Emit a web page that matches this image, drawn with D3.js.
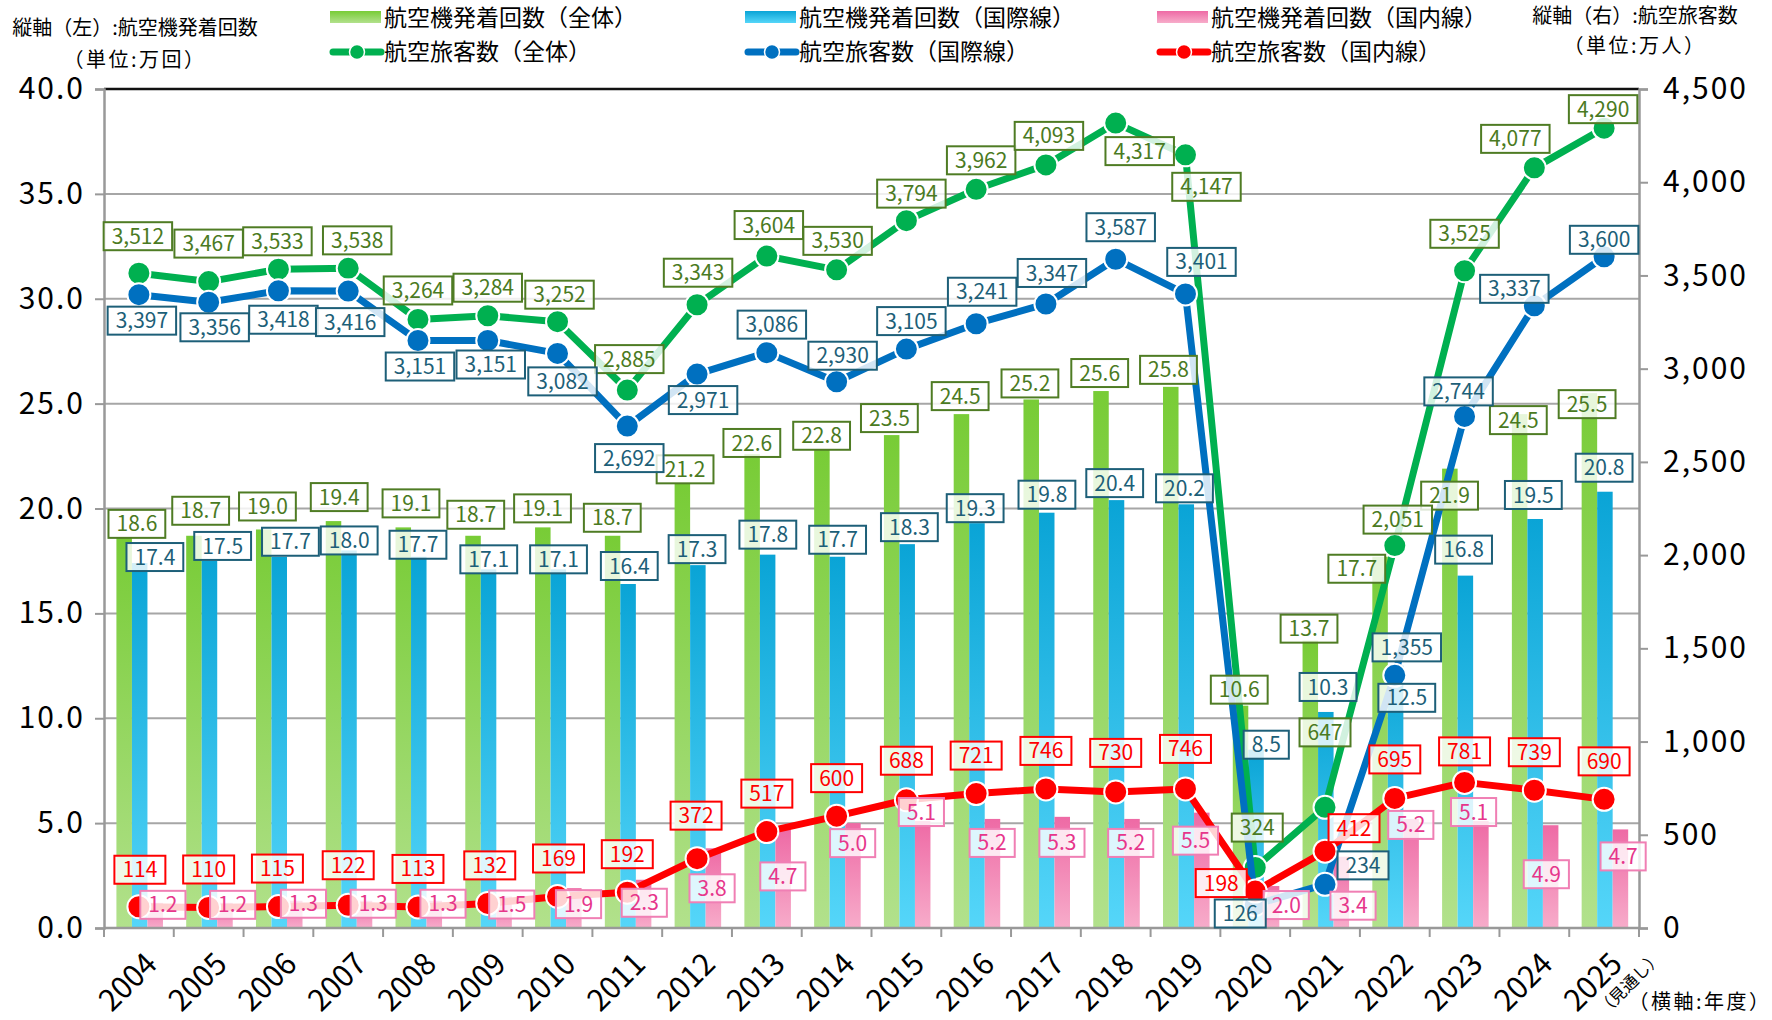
<!DOCTYPE html>
<html lang="ja">
<head>
<meta charset="utf-8">
<script src="https://cdn.jsdelivr.net/npm/d3@7"></script>
<style>
  body { margin: 0; background: #fff; }
  svg text { font-family: "Noto Sans CJK JP", "Noto Sans", sans-serif; }
</style>
</head>
<body>
<div id="chart"></div>
<script>
// ---- data ----
const years = ["2004","2005","2006","2007","2008","2009","2010","2011","2012","2013","2014",
               "2015","2016","2017","2018","2019","2020","2021","2022","2023","2024","2025"];

// 航空機発着回数 (万回)
const flightsTotal = [18.6,18.7,19.0,19.4,19.1,18.7,19.1,18.7,21.2,22.6,22.8,23.5,24.5,25.2,25.6,25.8,10.6,13.7,17.7,21.9,24.5,25.5];
const flightsIntl  = [17.4,17.5,17.7,18.0,17.7,17.1,17.1,16.4,17.3,17.8,17.7,18.3,19.3,19.8,20.4,20.2,8.5,10.3,12.5,16.8,19.5,20.8];
const flightsDom   = [1.2,1.2,1.3,1.3,1.3,1.5,1.9,2.3,3.8,4.7,5.0,5.1,5.2,5.3,5.2,5.5,2.0,3.4,5.2,5.1,4.9,4.7];

// 航空旅客数 (万人)
const paxTotal = [3512,3467,3533,3538,3264,3284,3252,2885,3343,3604,3530,3794,3962,4093,4317,4147,324,647,2051,3525,4077,4290];
const paxIntl  = [3397,3356,3418,3416,3151,3151,3082,2692,2971,3086,2930,3105,3241,3347,3587,3401,126,234,1355,2744,3337,3600];
const paxDom   = [114,110,115,122,113,132,169,192,372,517,600,688,721,746,730,746,198,412,695,781,739,690];

const leftTicks  = [0,5,10,15,20,25,30,35,40];
const rightTicks = [0,500,1000,1500,2000,2500,3000,3500,4000,4500];

// label nudges [dx, dy] in px, placed by hand in the original so they dodge each other
const nudgeFlTotal = [[-2,-14],[-8,-25],[-11,-23],[-9,-24],[-7,-24],[-12,-21],[-15,-19],[-15,-18],[-12,-14],[-15,-11],[-15,-14],
                      [-17,-17],[-16,-18],[-16,-16],[-16,-18],[-17,-17],[-16,-16],[-16,-12],[-38,12],[-15,27],[-16,6],[-17,11]];
const nudgeFlIntl  = [[16,-6],[14,-15],[12,-15],[1,-10],[0,-12],[1,-10],[1,-10],[2,-18],[0,-16],[1,-20],[1,-17],
                      [3,-17],[-1,-15],[1,-18],[-1,-17],[-1,-16],[11,-5],[3,-25],[12,32],[-1,-26],[-1,-24],[0,-24]];
const nudgeFlDom   = [[24,2],[24,2],[25,3],[25,3],[25,3],[24,8],[21,16],[17,23],[15,40],[16,47],[16,20],
                      [15,-9],[16,24],[16,26],[15,24],[10,28],[31,19],[28,49],[16,6],[9,-9],[12,49],[19,27]];
const nudgePaxTotal = [[-1,-37],[0,-38],[-1,-28],[9,-28],[0,-29],[0,-28],[2,-27],[2,-31],[1,-32],[2,-31],[1,-29],
                       [5,-27],[5,-29],[3,-29],[24,28],[21,32],[2,-40],[0,-75],[3,-26],[0,-37],[-19,-29],[-1,-19]];
const nudgePaxIntl  = [[3,26],[6,25],[5,29],[2,31],[2,26],[3,24],[5,28],[2,32],[6,26],[5,-28],[6,-26],
                       [5,-28],[6,-32],[6,-31],[5,-32],[16,-32],[-15,9],[38,-19],[12,-28],[-6,-25],[-20,-17],[0,-17]];
const nudgePaxDom   = [[1,-37],[0,-38],[-1,-38],[0,-40],[0,-38],[2,-38],[1,-38],[0,-38],[-1,-43],[0,-38],[0,-38],
                       [0,-39],[0,-38],[0,-38],[0,-39],[0,-40],[-34,-8],[29,-23],[0,-39],[0,-31],[0,-38],[0,-38]];

function drawChart(){

    const margin = {top: 89, right: 133, bottom: 92, left: 104},
        width = 1772 - margin.left - margin.right,
        height = 1020 - margin.top - margin.bottom;

    const root = d3.select("#chart")
      .append("svg")
        .attr("width", 1772)
        .attr("height", 1020);

    const defs = root.append("defs");
    function vgrad(id, top, bottom){
      const g = defs.append("linearGradient").attr("id", id)
        .attr("x1", 0).attr("y1", 0).attr("x2", 0).attr("y2", 1);
      g.append("stop").attr("offset", "0%").attr("stop-color", top);
      g.append("stop").attr("offset", "100%").attr("stop-color", bottom);
    }
    vgrad("gGreen", "#78cc36", "#b2e18c");
    vgrad("gBlue", "#0aa4d6", "#55d6f9");
    vgrad("gPink", "#ee6aa5", "#f7acca");

    const svg = root.append("g")
        .attr("transform", `translate(${margin.left}, ${margin.top})`);

    // scales
    const x = d3.scaleBand().domain(years).range([0, width]);
    const bw = x.bandwidth();
    const xs = d3.scaleBand().domain(["t","i","d"]).range([0.178*bw, 0.845*bw]);
    const yL = d3.scaleLinear().domain([0, 40]).range([height, 0]);
    const yR = d3.scaleLinear().domain([0, 4500]).range([height, 0]);
    const cx = (d, i) => x(years[i]) + bw/2;

    // grid
    svg.append("g").selectAll("line")
      .data(leftTicks.slice(1, -1))
      .join("line")
        .attr("x1", 0).attr("x2", width)
        .attr("y1", d => yL(d)).attr("y2", d => yL(d))
        .attr("stroke", "#a6a6a6").attr("stroke-width", 2);
    svg.append("line")
      .attr("x1", 0).attr("x2", width)
      .attr("y1", yL(40)).attr("y2", yL(40))
      .attr("stroke", "#111").attr("stroke-width", 2.5);

    // bars
    const barSeries = [
      {key: "t", vals: flightsTotal, fill: "url(#gGreen)"},
      {key: "i", vals: flightsIntl, fill: "url(#gBlue)"},
      {key: "d", vals: flightsDom, fill: "url(#gPink)"}
    ];
    barSeries.forEach(s => {
      svg.append("g").selectAll("rect")
        .data(s.vals)
        .join("rect")
          .attr("x", (d, i) => x(years[i]) + xs(s.key))
          .attr("y", d => yL(d))
          .attr("width", xs.bandwidth())
          .attr("height", d => height - yL(d))
          .attr("fill", s.fill);
    });

    // axes
    const axL = svg.append("g")
      .call(d3.axisLeft(yL).tickValues(leftTicks).tickFormat(d3.format(".1f")).tickSize(9).tickPadding(10));
    const axR = svg.append("g")
      .attr("transform", `translate(${width}, 0)`)
      .call(d3.axisRight(yR).tickValues(rightTicks).tickFormat(d3.format(",")).tickSize(9).tickPadding(15));
    [axL, axR].forEach(a => {
      a.select(".domain").attr("stroke", "#999").attr("stroke-width", 2.5);
      a.selectAll(".tick line").attr("stroke", "#999").attr("stroke-width", 2);
      a.selectAll(".tick text").attr("font-size", 30).attr("fill", "#000")
        .attr("letter-spacing", 2)
        .style("font-family", '"Noto Sans CJK JP", sans-serif');
    });

    // x axis: line + ticks on band edges + rotated year labels
    const axB = svg.append("g").attr("transform", `translate(0, ${height})`);
    axB.append("line").attr("x1", 0).attr("x2", width).attr("stroke", "#999").attr("stroke-width", 2.5);
    axB.selectAll("line.tk")
      .data(d3.range(years.length + 1))
      .join("line").attr("class", "tk")
        .attr("x1", i => i * x.step()).attr("x2", i => i * x.step())
        .attr("y1", 0).attr("y2", 9)
        .attr("stroke", "#999").attr("stroke-width", 2);
    axB.selectAll("text.yr")
      .data(years)
      .join("text").attr("class", "yr")
        .attr("transform", d => `translate(${x(d) + bw/2 + 20}, 38) rotate(-45)`)
        .attr("text-anchor", "end")
        .attr("font-size", 30)
        .text(d => d);
    axB.append("text")
      .attr("transform", `translate(${x("2025") + bw/2 + 20}, 38) rotate(-45)`)
      .attr("x", 33).attr("y", 22)
      .attr("text-anchor", "end")
      .attr("font-size", 16.5)
      .text("（見通し）");

    // lines
    const lineSeries = [
      {vals: paxTotal, color: "#00b050"},
      {vals: paxIntl, color: "#0070c0"},
      {vals: paxDom, color: "#ff0000"}
    ];
    lineSeries.forEach(s => {
      const line = d3.line().x(cx).y(d => yR(d));
      svg.append("path")
        .attr("d", line(s.vals))
        .attr("fill", "none")
        .attr("stroke", s.color)
        .attr("stroke-width", 7)
        .attr("stroke-linejoin", "round");
      svg.append("g").selectAll("circle")
        .data(s.vals)
        .join("circle")
          .attr("cx", cx)
          .attr("cy", d => yR(d))
          .attr("r", 11.5)
          .attr("fill", s.color)
          .attr("stroke", "#fff")
          .attr("stroke-width", 2);
    });

    // data labels
    function labels(vals, px, py, nudge, fmt, textColor, border){
      const g = svg.append("g");
      vals.forEach((v, i) => {
        const lx = px(v, i) + nudge[i][0];
        const ly = py(v, i) + nudge[i][1];
        const lg = g.append("g").attr("transform", `translate(${lx}, ${ly})`);
        const r = lg.append("rect");
        const t = lg.append("text")
          .attr("text-anchor", "middle")
          .attr("dy", "0.36em")
          .attr("font-size", 21)
          .attr("fill", textColor)
          .text(fmt(v));
        const w = t.node().getComputedTextLength() + 16;
        r.attr("x", -w/2).attr("y", -14).attr("width", w).attr("height", 28)
          .attr("fill", "#fff").attr("fill-opacity", 0.82)
          .attr("stroke", border).attr("stroke-width", 2);
      });
    }
    const f1 = d3.format(".1f"), fc = d3.format(",");
    labels(flightsTotal, cx, d => yL(d), nudgeFlTotal, f1, "#4a7a22", "#4f7c24");
    labels(flightsIntl, cx, d => yL(d), nudgeFlIntl, f1, "#1d5f78", "#1d5f78");
    labels(flightsDom, cx, d => yL(d), nudgeFlDom, f1, "#e6368b", "#f07fb4");
    labels(paxTotal, cx, d => yR(d), nudgePaxTotal, fc, "#4a7a22", "#4f7c24");
    labels(paxIntl, cx, d => yR(d), nudgePaxIntl, fc, "#1d5f78", "#1d5f78");
    labels(paxDom, cx, d => yR(d), nudgePaxDom, fc, "#ff0000", "#ff0000");

    // legend
    const legend = root.append("g");
    const legItems = [
      {row: 0, col: 0, kind: "bar", text: "航空機発着回数（全体）"},
      {row: 0, col: 1, kind: "bar", text: "航空機発着回数（国際線）"},
      {row: 0, col: 2, kind: "bar", text: "航空機発着回数（国内線）"},
      {row: 1, col: 0, kind: "line", base: "#00b050", text: "航空旅客数（全体）"},
      {row: 1, col: 1, kind: "line", base: "#0070c0", text: "航空旅客数（国際線）"},
      {row: 1, col: 2, kind: "line", base: "#ff0000", text: "航空旅客数（国内線）"}
    ];
    const legX = [330, 745, 1157], legY = [18, 52];
    const barGrad = ["url(#gGreen)", "url(#gBlue)", "url(#gPink)"];
    legItems.forEach(it => {
      const gx = legX[it.col], gy = legY[it.row];
      if (it.kind === "bar") {
        legend.append("rect").attr("x", gx).attr("y", gy - 7).attr("width", 51).attr("height", 12)
          .attr("fill", barGrad[it.col]);
      } else {
        legend.append("line").attr("x1", gx + 3).attr("x2", gx + 51).attr("y1", gy).attr("y2", gy)
          .attr("stroke", it.base).attr("stroke-width", 7).attr("stroke-linecap", "round");
        legend.append("circle").attr("cx", gx + 27).attr("cy", gy).attr("r", 7.5)
          .attr("fill", it.base).attr("stroke", "#fff").attr("stroke-width", 1.5);
      }
      legend.append("text")
        .attr("x", gx + 54).attr("y", gy)
        .attr("dy", "0.36em")
        .attr("font-size", 23)
        .text(it.text);
    });

    // axis titles
    const titles = [
      {x: 135, y: 28, t: "縦軸（左）:航空機発着回数", s: 20, ls: 0},
      {x: 135, y: 60, t: "（単位:万回）", s: 20, ls: 2.5},
      {x: 1635, y: 16, t: "縦軸（右）:航空旅客数", s: 20, ls: 0},
      {x: 1635, y: 46, t: "（単位:万人）", s: 20, ls: 2.5},
      {x: 1700, y: 1002, t: "（横軸:年度）", s: 20, ls: 2.5}
    ];
    root.append("g").selectAll("text")
      .data(titles)
      .join("text")
        .attr("x", d => d.x).attr("y", d => d.y)
        .attr("dy", "0.36em")
        .attr("text-anchor", "middle")
        .attr("font-size", d => d.s)
        .attr("letter-spacing", d => d.ls)
        .text(d => d.t);
}

document.addEventListener("DOMContentLoaded", () => drawChart());
</script>
</body>
</html>
